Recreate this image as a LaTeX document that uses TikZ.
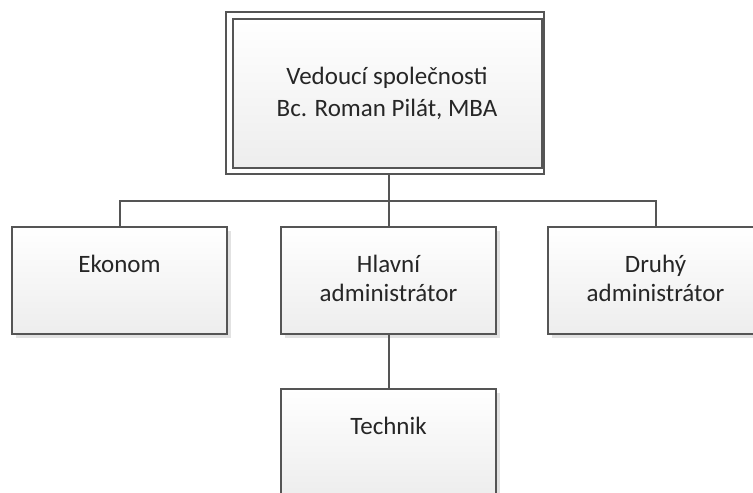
\documentclass[tikz,border=0pt]{standalone}
\usepackage{fontspec}
\setmainfont{Carlito}
\usetikzlibrary{shadows}
\definecolor{linegray}{HTML}{555555}
\definecolor{boxbottom}{HTML}{EDEDED}
\definecolor{shadowgray}{HTML}{E2E2E2}
\definecolor{textgray}{HTML}{262626}
\tikzset{
  unitbox/.style={draw=linegray, line width=2pt, minimum width=215pt,
    minimum height=107pt, inner sep=0pt, top color=white, bottom color=boxbottom,
    drop shadow={shadow xshift=4pt, shadow yshift=-4pt, fill=shadowgray, opacity=1}},
  frame/.style={draw=linegray, line width=2pt, inner sep=0pt, fill=white},
  label/.style={anchor=base, align=center, text=textgray, inner sep=0pt,
    font=\fontsize{25}{29}\selectfont},
  link/.style={draw=linegray, line width=2pt},
}
\begin{document}
\begin{tikzpicture}[x=1pt, y=-1pt]
\path[use as bounding box, clip] (0,0) rectangle (753,493);

% head of the company: double frame
\node[frame, minimum width=318pt, minimum height=162pt] (headframe) at (385,93) {};
\node[frame, top color=white, bottom color=boxbottom, minimum width=309pt,
  minimum height=149pt] (head) at (387.5,93.5) {};
% the base anchor of a multi-line label sits on its last line
\node[label, font=\fontsize{25}{32}\selectfont] (headtext) at (387,116)
  {Vedoucí společnosti\\ Bc. Roman Pilát, MBA};

% second level
\node[unitbox] (ekonom) at (119.5,280.5) {};
\node[unitbox] (hlavni) at (388.5,280.5) {};
\node[unitbox] (druhy) at (655.5,280.5) {};
% third level
\node[unitbox] (technik) at (388.5,442.5) {};

\node[label] (ekonomtext) at ([yshift=-46pt]ekonom.north) {Ekonom};
\node[label] (hlavnitext) at ([yshift=-75pt]hlavni.north) {Hlavní\\administrátor};
\node[label] (druhytext) at ([yshift=-75pt]druhy.north) {Druhý\\administrátor};
\node[label] (techniktext) at ([yshift=-46pt]technik.north) {Technik};

% connectors
\coordinate (bus) at (388.5,201);
\draw[link] (headframe.south -| hlavni) -- (hlavni.north);
\draw[link] (ekonom.north) |- (bus) -| (druhy.north);
\draw[link] (hlavni.south) -- (technik.north);
\end{tikzpicture}
\end{document}
